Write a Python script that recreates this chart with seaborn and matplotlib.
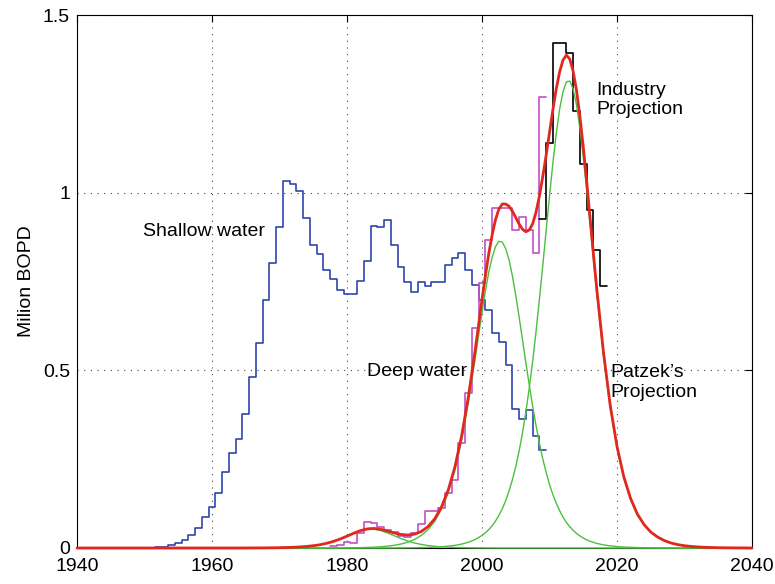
import numpy as np
import pandas as pd
import matplotlib
matplotlib.use("Agg")
import matplotlib.pyplot as plt
import seaborn as sns

# ---------------- data ----------------
# Shallow-water yearly production, million BOPD, starting 1952
shallow_start = 1952
shallow_vals = [0.003, 0.004, 0.008, 0.014, 0.022, 0.036, 0.057, 0.086, 0.116, 0.156,
                0.214, 0.266, 0.308, 0.376, 0.482, 0.578, 0.697, 0.801, 0.904, 1.032,
                1.024, 1.005, 0.929, 0.852, 0.827, 0.782, 0.758, 0.726, 0.715, 0.715,
                0.751, 0.807, 0.906, 0.904, 0.922, 0.854, 0.791, 0.749, 0.721, 0.749,
                0.737, 0.749, 0.749, 0.797, 0.816, 0.831, 0.782, 0.741, 0.698, 0.670,
                0.604, 0.580, 0.515, 0.390, 0.362, 0.388, 0.315, 0.276]

# Deep-water yearly production, starting 1978
deep_start = 1978
deep_vals = [0.006, 0.008, 0.018, 0.014, 0.041, 0.072, 0.069, 0.059, 0.052, 0.046,
             0.035, 0.032, 0.041, 0.068, 0.103, 0.103, 0.112, 0.154, 0.191, 0.296,
             0.437, 0.618, 0.745, 0.866, 0.958, 0.958, 0.958, 0.896, 0.932, 0.896,
             0.831, 1.270]

# Industry projection, starting 2009
industry_start = 2009
industry_vals = [0.927, 1.140, 1.420, 1.420, 1.393, 1.229, 1.080, 0.951, 0.838, 0.737]

# Sample years of the smooth projection curves
curve_years = (list(range(1940, 2000))
               + [2000 + 0.5 * k for k in range(35)]
               + list(range(2018, 2041)))

# Green cycle 1 (small 1980s cycle)
cycle0_vals = ([0.0] * 25
               + [0.0001, 0.0002, 0.0003, 0.0004, 0.0006, 0.0009, 0.0014, 0.0020, 0.0030, 0.0044,
                  0.0064, 0.0092, 0.0132, 0.0184, 0.0251, 0.0328, 0.0409, 0.0479, 0.0522, 0.0527,
                  0.0491, 0.0424, 0.0345, 0.0266, 0.0197, 0.0141, 0.0100, 0.0069, 0.0047, 0.0032,
                  0.0022, 0.0015, 0.0010, 0.0007, 0.0004]
               + [0.0003, 0.0002, 0.0002, 0.0001, 0.0001]
               + [0.0] * 53)

# Green cycle 2 (2003 peak)
cycle1_vals = ([0.0] * 37
               + [0.0001, 0.0002, 0.0003, 0.0005, 0.0007, 0.0011, 0.0016, 0.0024, 0.0035, 0.0051,
                  0.0076, 0.0112, 0.0163, 0.0241, 0.0353, 0.0517, 0.0752, 0.109, 0.156, 0.220,
                  0.305, 0.411, 0.534]
               + [0.663, 0.723, 0.776, 0.818, 0.848, 0.863, 0.861, 0.843, 0.811, 0.766,
                  0.711, 0.650, 0.586, 0.521, 0.459, 0.399, 0.345, 0.295, 0.251, 0.213,
                  0.179, 0.150, 0.126, 0.105, 0.087, 0.072, 0.060, 0.050, 0.041, 0.034,
                  0.028, 0.023, 0.019, 0.016, 0.013]
               + [0.0088, 0.0060, 0.0041, 0.0027, 0.0019, 0.0013, 0.0009, 0.0006, 0.0004, 0.0003,
                  0.0002, 0.0001]
               + [0.0] * 11)

# Green cycle 3 (2013 peak)
cycle2_vals = ([0.0] * 46
               + [0.0001, 0.0002, 0.0003, 0.0005, 0.0007, 0.0011, 0.0016, 0.0023, 0.0034, 0.0051,
                  0.0075, 0.0111, 0.0163, 0.0240]
               + [0.0353, 0.0428, 0.0517, 0.0626, 0.0757, 0.0915, 0.110, 0.133, 0.160, 0.192,
                  0.229, 0.273, 0.324, 0.383, 0.450, 0.525, 0.608, 0.699, 0.794, 0.893,
                  0.990, 1.083, 1.166, 1.235, 1.284, 1.312, 1.314, 1.292, 1.247, 1.181,
                  1.101, 1.009, 0.912, 0.814, 0.717]
               + [0.541, 0.395, 0.282, 0.198, 0.138, 0.095, 0.065, 0.0445, 0.0303, 0.0205,
                  0.0139, 0.0095, 0.0064, 0.0043, 0.0029, 0.0020, 0.0014, 0.0009, 0.0006, 0.0004,
                  0.0003, 0.0002, 0.0001])

# Red: Patzek's projection (total)
total_vals = ([0.0] * 25
              + [0.0001, 0.0002, 0.0003, 0.0004, 0.0006, 0.0009, 0.0014, 0.0020, 0.0030, 0.0044,
                 0.0064, 0.0092, 0.0133, 0.0186, 0.0254, 0.0333, 0.0416, 0.0490, 0.0538, 0.0551,
                 0.0526, 0.0476, 0.0423, 0.0381, 0.0365, 0.0389, 0.0464, 0.0602, 0.0822, 0.1156,
                 0.1633, 0.2290, 0.3171, 0.4280, 0.5584]
              + [0.699, 0.766, 0.828, 0.881, 0.924, 0.954, 0.968, 0.968, 0.962, 0.948,
                 0.930, 0.912, 0.897, 0.890, 0.895, 0.912, 0.945, 0.990, 1.045, 1.105,
                 1.169, 1.233, 1.292, 1.340, 1.373, 1.387, 1.376, 1.342, 1.288, 1.215,
                 1.129, 1.033, 0.931, 0.829, 0.730]
              + [0.550, 0.401, 0.286, 0.201, 0.140, 0.096, 0.066, 0.045, 0.031, 0.021,
                 0.014, 0.0096, 0.0064, 0.0043, 0.0029, 0.0020, 0.0014, 0.0009, 0.0006, 0.0004,
                 0.0003, 0.0002, 0.0001])

x_ticks = [1940, 1960, 1980, 2000, 2020, 2040]
y_ticks = [0, 0.5, 1, 1.5]
y_ticklabels = ["0", "0.5", "1", "1.5"]

# ---------------- styling ----------------
sns.set_style("white")
plt.rcParams["font.family"] = ["Liberation Sans", "DejaVu Sans"]
plt.rcParams["text.color"] = "black"
plt.rcParams["axes.labelcolor"] = "black"
plt.rcParams["xtick.color"] = "black"
plt.rcParams["ytick.color"] = "black"

C_BLUE = "#2f45ad"
C_MAG = "#c24fc6"
C_GREEN = "#4bbf3f"
C_RED = "#e0281e"

fig = plt.figure(figsize=(7.75, 5.84), dpi=100)
ax = fig.add_axes([77 / 775, 1 - 548 / 584, 675 / 775, 533 / 584])


def step_frame(start, vals):
    yrs = np.arange(start, start + len(vals), dtype=float)
    x = np.append(yrs - 0.5, yrs[-1] + 0.5)
    y = np.append(np.asarray(vals, float), vals[-1])
    return pd.DataFrame({"year": x, "bopd": y})


for start, vals, col in [(shallow_start, shallow_vals, C_BLUE),
                         (deep_start, deep_vals, C_MAG),
                         (industry_start, industry_vals, "black")]:
    sns.lineplot(data=step_frame(start, vals), x="year", y="bopd", ax=ax,
                 drawstyle="steps-post", color=col, linewidth=1.2,
                 estimator=None, sort=False, zorder=3)

curves = pd.DataFrame({"year": curve_years, "c0": cycle0_vals, "c1": cycle1_vals,
                       "c2": cycle2_vals, "total": total_vals})
for col in ["c0", "c1", "c2"]:
    sns.lineplot(data=curves, x="year", y=col, ax=ax, color=C_GREEN, linewidth=1.0,
                 estimator=None, clip_on=False, zorder=4)
sns.lineplot(data=curves, x="year", y="total", ax=ax, color=C_RED, linewidth=2.0,
             estimator=None, clip_on=False, zorder=5)

ax.set_xlim(1940, 2040)
ax.set_ylim(0, 1.5)
ax.set_xticks(x_ticks)
ax.set_xticklabels([str(v) for v in x_ticks])
ax.set_yticks(y_ticks)
ax.set_yticklabels(y_ticklabels)
ax.tick_params(direction="in", length=5, width=0.8, top=True, right=True,
               labelsize=14, colors="black")
ax.tick_params(axis="x", pad=7)
ax.tick_params(axis="y", pad=5)
ax.grid(True, linestyle=(0, (1, 5)), color="#444444", linewidth=0.8)
ax.set_axisbelow(True)
for sp in ax.spines.values():
    sp.set_color("black")
    sp.set_linewidth(0.8)

ax.set_xlabel("")
ax.set_ylabel("Milion BOPD", fontsize=14, color="black")
ax.yaxis.set_label_coords(-0.062, 0.5)

ax.text(1949.8, 0.892, "Shallow water", fontsize=14, ha="left", va="center", color="black")
ax.text(1982.9, 0.496, "Deep water", fontsize=14, ha="left", va="center", color="black")
ax.text(2017.0, 1.261, "Industry\nProjection", fontsize=14, ha="left", va="center", color="black")
ax.text(2019.0, 0.466, "Patzek\u2019s\nProjection", fontsize=14, ha="left", va="center", color="black")

fig.savefig("out.png", dpi=100)
